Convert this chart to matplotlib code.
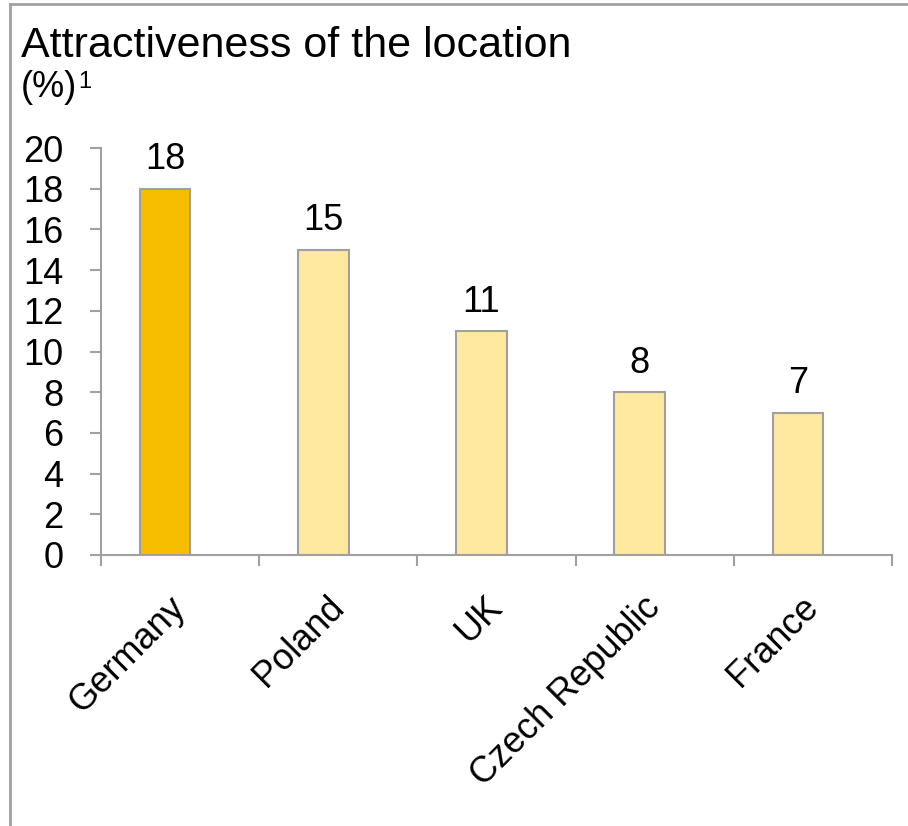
import matplotlib
matplotlib.use("Agg")
import matplotlib.pyplot as plt
import matplotlib.transforms as mtransforms
from matplotlib.lines import Line2D

plt.rcParams['font.family'] = ['Liberation Sans', 'DejaVu Sans']

countries = ["Germany", "Poland", "UK", "Czech Republic", "France"]
values = [18, 15, 11, 8, 7]
highlight = "Germany"

dark = "#F7BE00"
light = "#FFE99E"
grey = "#A0A0A0"

W, H = 908, 826
fig = plt.figure(figsize=(W/100, H/100), dpi=100)
ax = fig.add_axes([101/W, 1-555/H, (892-101)/W, (555-148)/H])

# bars sit a little left of the category centre, as in the original
n = len(countries)
pos = [i - 0.095 for i in range(n)]
colors = [dark if c == highlight else light for c in countries]
ax.bar(pos, values, width=0.32, color=colors, edgecolor=grey, linewidth=1.5)

for xi, v in zip(pos, values):
    ax.annotate(str(v), (xi, v), xytext=(0, 14), textcoords="offset points",
                ha="center", va="baseline", fontsize=26)

ax.set_xlim(-0.5, n - 0.5)
ax.set_ylim(0, 20)
ax.set_yticks(range(0, 21, 2))
ax.tick_params(axis="y", labelsize=26, length=8, width=1.5, color=grey, pad=19)

# labels without marks, boundary marks as minor ticks
ax.set_xticks(pos)
ax.set_xticklabels(countries, rotation=45, ha="right", va="top",
                   rotation_mode="anchor", fontsize=26)
ax.set_xticks([i - 0.5 for i in range(n + 1)], minor=True)
ax.tick_params(axis="x", which="major", length=0, pad=25)
ax.tick_params(axis="x", which="minor", length=8, width=1.5, color=grey)
shift = mtransforms.ScaledTranslation(3/100, 0, fig.dpi_scale_trans)
for lab in ax.get_xticklabels():
    lab.set_transform(lab.get_transform() + shift)

for s in ["top", "right"]:
    ax.spines[s].set_visible(False)
for s in ["left", "bottom"]:
    ax.spines[s].set_color(grey)
    ax.spines[s].set_linewidth(1.5)

fig.text(21/W, 1-57/H, "Attractiveness of the location", fontsize=31,
         ha="left", va="baseline")
fig.text(21/W, 1-97/H, "(%)", fontsize=26, ha="left", va="baseline")
fig.text(78/W, 1-88/H, "1", fontsize=17, ha="left", va="baseline")

# outer frame (top and left edges)
fig.add_artist(Line2D([10/W, 1], [1-4/H, 1-4/H], color=grey, lw=2))
fig.add_artist(Line2D([10/W, 10/W], [0, 1-4/H], color=grey, lw=2))

fig.savefig("out.png", dpi=100)
